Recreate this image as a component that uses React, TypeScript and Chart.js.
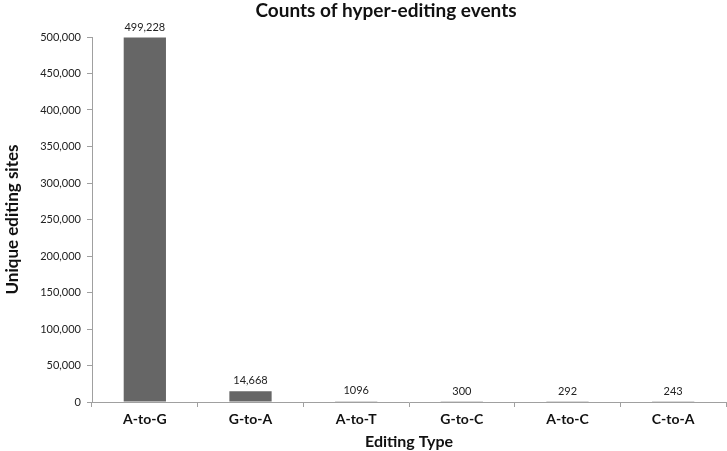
import React, { useEffect, useRef } from "react";
import { Chart, registerables } from "chart.js";

Chart.register(...registerables);

const categories = ["A-to-G", "G-to-A", "A-to-T", "G-to-C", "A-to-C", "C-to-A"];
const counts = [499228, 14668, 1096, 300, 292, 243];
const valueLabels = ["499,228", "14,668", "1096", "300", "292", "243"];
const chartTitle = "Counts of hyper-editing events";
const yTitle = "Unique editing sites";
const xTitle = "Editing Type";

const FONT = "Lato, 'Open Sans', sans-serif";

const labelsPlugin = {
  id: "valueLabels",
  afterDatasetsDraw(chart: any) {
    const ctx = chart.ctx;
    const meta = chart.getDatasetMeta(0);
    ctx.save();
    ctx.font = `11px ${FONT}`;
    ctx.fillStyle = "#222";
    ctx.textAlign = "center";
    ctx.textBaseline = "bottom";
    meta.data.forEach((bar: any, i: number) => {
      ctx.fillText(valueLabels[i], bar.x, bar.y - 5);
    });
    ctx.restore();
  },
};

const titlePlugin = {
  id: "customTitle",
  afterDraw(chart: any) {
    const ctx = chart.ctx;
    ctx.save();
    ctx.font = `bold 19px ${FONT}`;
    ctx.fillStyle = "#111";
    ctx.textAlign = "center";
    ctx.textBaseline = "middle";
    ctx.fillText(chartTitle, 386, 11);
    ctx.restore();
  },
};

export default function App() {
  const ref = useRef<HTMLCanvasElement | null>(null);
  useEffect(() => {
    document.body.style.margin = "0";
    const chart = new Chart(ref.current as HTMLCanvasElement, {
      type: "bar",
      data: {
        labels: categories,
        datasets: [
          {
            data: counts,
            backgroundColor: "#666666",
            borderWidth: 0,
            categoryPercentage: 1,
            barPercentage: 0.4,
          },
        ],
      },
      options: {
        animation: false,
        responsive: false,
        layout: { padding: { top: 37, right: 1, left: 2, bottom: 0 } },
        plugins: {
          legend: { display: false },
          tooltip: { enabled: false },
          title: { display: false },
        },
        scales: {
          x: {
            grid: {
              display: true,
              drawOnChartArea: false,
              drawTicks: true,
              tickLength: 5,
              color: "#a0a0a0",
              offset: true,
            },
            border: { color: "#a0a0a0", width: 1 },
            ticks: {
              color: "#111",
              font: { family: FONT, size: 14, weight: "bold" },
              padding: 4,
            },
            title: {
              display: true,
              text: xTitle,
              color: "#111",
              font: { family: FONT, size: 16, weight: "bold" },
              padding: { top: 0, bottom: 0 },
            },
          },
          y: {
            min: 0,
            max: 500000,
            grid: {
              display: true,
              drawOnChartArea: false,
              drawTicks: true,
              tickLength: 5,
              color: "#a0a0a0",
            },
            border: { color: "#a0a0a0", width: 1 },
            ticks: {
              stepSize: 50000,
              color: "#222",
              font: { family: FONT, size: 11 },
              padding: 6,
            },
            title: {
              display: true,
              text: yTitle,
              color: "#111",
              font: { family: FONT, size: 17, weight: "bold" },
              padding: { top: 0, bottom: 8 },
            },
            afterFit(scale: any) {
              scale.width = 90;
            },
          },
        },
      },
      plugins: [labelsPlugin, titlePlugin],
    });
    return () => chart.destroy();
  }, []);
  return (
    <div style={{ width: 727, height: 451 }}>
      <canvas ref={ref} width={727} height={451} style={{ display: "block" }} />
    </div>
  );
}
